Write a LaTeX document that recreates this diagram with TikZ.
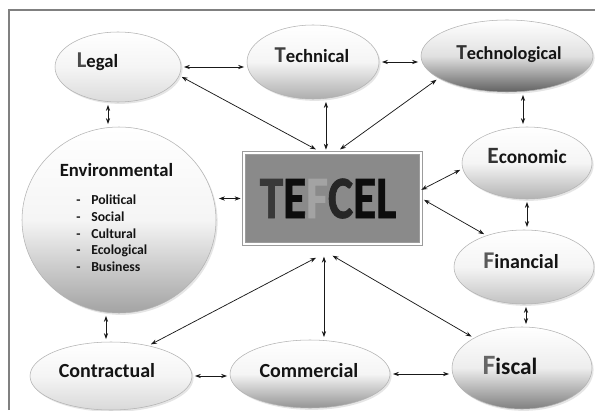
\documentclass[tikz,border=0pt]{standalone}
\usepackage{fontspec}
\setmainfont{Carlito}
\newfontfamily\tefcelfont{Carlito}[FakeBold=1.4]
\usetikzlibrary{shapes.geometric,arrows.meta,shadows}
\definecolor{framegray}{HTML}{808080}
\definecolor{boxgray}{HTML}{8A8A8A}
\definecolor{boxline}{HTML}{9C9C9C}
\definecolor{ink}{HTML}{141414}
\newcommand\twosize[5]{{\color{#1}\fontsize{#2}{#2}\selectfont #3}\fontsize{#4}{#4}\selectfont #5}
\begin{document}
\begin{tikzpicture}[x=0.75pt,y=-0.75pt,
  >={Stealth[length=4.5pt,width=3.2pt]},
  bub/.style={ellipse, draw=black!30, line width=0.4pt, inner sep=0pt,
    top color=white, bottom color=#1, middle color=white!96!black,
    drop shadow={opacity=0.2, shadow xshift=1.2pt, shadow yshift=-1.4pt}},
  lbl/.style={font=\bfseries, text=ink, inner sep=0pt, anchor=base},
  bul/.style={font=\bfseries\fontsize{10.3}{12}\selectfont, text=ink, inner sep=0pt, anchor=base west},
  link/.style={<->, line width=0.55pt, draw=black!90, shorten <=2pt, shorten >=2pt}
]
\useasboundingbox (0,0) rectangle (595,410);
\fill[white] (0,0) rectangle (595,410);
% frame
\draw[framegray, line width=1.4pt] (9,410) -- (9,10) -- (595,10);

% shapes
\node[bub=black!14, minimum width=94.5pt, minimum height=52.5pt] (legal) at (118,67) {};
\node[bub=black!32, minimum width=99pt, minimum height=55.5pt] (technical) at (313,62) {};
\node[bub=black!62, middle color=black!12, minimum width=129pt, minimum height=54pt] (technological) at (507,56) {};
\node[bub=black!30, minimum width=97.5pt, minimum height=54pt] (economic) at (527,163) {};
\node[bub=black!24, minimum width=105pt, minimum height=55.5pt] (financial) at (524,267) {};
\node[bub=black!50, middle color=black!7, minimum width=105pt, minimum height=61.5pt] (fiscal) at (522,368) {};
\node[bub=black!42, minimum width=120pt, minimum height=51pt] (commercial) at (310,374) {};
\node[bub=black!15, minimum width=121.5pt, minimum height=51pt] (contractual) at (111,376) {};
\node[bub=black!36, minimum width=145.5pt, minimum height=139.5pt] (env) at (119,220) {};
\node[rectangle, fill=boxgray, draw=boxline, line width=1pt, double=white, double distance=1.2pt,
      minimum width=132.75pt, minimum height=68.25pt, inner sep=0pt] (tefcel) at (332.5,198.5) {};

% texts
\node[lbl] (legalt) at (97.5,68) {\twosize{black!70}{17}{L}{14}{egal}};
\node[lbl] (technicalt) at (312,63) {\twosize{black!75}{17}{T}{14}{echnical}};
\node[lbl] (technologicalt) at (509,60) {\twosize{black!80}{16}{T}{13.7}{echnological}};
\node[lbl] (economict) at (527,163) {\twosize{black!80}{17.5}{E}{14.5}{conomic}};
\node[lbl] (financialt) at (521,268) {\twosize{black!65}{18}{F}{15}{inancial}};
\node[lbl] (fiscalt) at (510,374) {\twosize{black!60}{21}{F}{17.5}{iscal}};
\node[lbl, font=\bfseries\fontsize{15}{15}\selectfont] (commercialt) at (309,377) {Commercial};
\node[lbl, font=\bfseries\fontsize{15}{15}\selectfont] (contractualt) at (107,377) {Contractual};
\node[lbl, font=\bfseries\fontsize{14}{14}\selectfont] (envt) at (116.5,176) {Environmental};
\foreach \w [count=\i] in {Political,Social,Cultural,Ecological,Business}
  \node[bul] (item\i) at (76,{204.5+16.75*(\i-1)}) {\makebox[11.25pt][l]{-}\w};
\node[lbl, font=\tefcelfont\bfseries\fontsize{45}{45}\selectfont] (tefcelt) at (328,218)
  {\scalebox{0.79}[1]{\textcolor{black!78}{T}\textcolor{black!95}{E}\textcolor{black!36}{F}\textcolor{black!85}{C}\textcolor{black!95}{EL}}};

% connectors
\draw[link] (legal.east) -- (legal.east -| technical.west);
\draw[link] (technical.east) -- (technical.east -| technological.west);
\draw[link] (legal.-8) -- ([xshift=-10.7pt,yshift=1.25pt]tefcel.north);
\draw[link] ([xshift=-4.9pt]tefcel.north) -- ([xshift=-4.9pt]tefcel.north |- technical.south);
\draw[link] (technological.198) -- ([xshift=4pt,yshift=1pt]tefcel.north);
\draw[link] ([xshift=-7.5pt]legal.south) -- ([xshift=-7.5pt]legal.south |- env.north);
\draw[link] ([xshift=-3pt]economic.north) -- ([xshift=-3pt]economic.north |- technological.south);
\draw[link] (economic.185) -- ([xshift=-2pt,yshift=5.6pt]tefcel.east);
\draw[link] (tefcel.east) -- (financial.140);
\draw[link] (economic.south) -- (economic.south |- financial.north);
\draw[link] ([xshift=1.5pt]financial.south) -- ([xshift=1.5pt]financial.south |- fiscal.north);
\draw[link] (tefcel.west) -- (tefcel.west -| env.east);
\draw[link] ([xshift=-3.75pt]contractual.north) -- ([xshift=-3.75pt]contractual.north |- env.south);
\draw[link] (contractual.39) -- ([xshift=-10.6pt,yshift=-8.9pt]tefcel.south);
\draw[link] ([xshift=-6.4pt,yshift=-7pt]tefcel.south) -- ([xshift=-6.4pt]tefcel.south |- commercial.north);
\draw[link] ([xshift=-1.7pt,yshift=-7.25pt]tefcel.south) -- (fiscal.148);
\draw[link] (contractual.east) -- (contractual.east -| commercial.west);
\draw[link] (commercial.east) -- (commercial.east -| fiscal.west);
\end{tikzpicture}
\end{document}
